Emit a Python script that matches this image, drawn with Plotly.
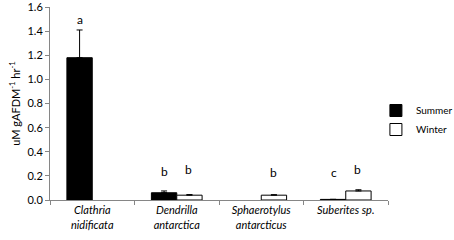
import plotly.graph_objects as go

categories = ["Clathria nidificata", "Dendrilla antarctica", "Sphaerotylus antarcticus", "Suberites sp."]
tick_labels = ["<i>Clathria<br>nidificata</i>", "<i>Dendrilla<br>antarctica</i>",
               "<i>Sphaerotylus<br>antarcticus</i>", "<i>Suberites sp.</i><br> "]
y_ticks = [0.0, 0.2, 0.4, 0.6, 0.8, 1.0, 1.2, 1.4, 1.6]
summer = [1.18, 0.06, None, 0.005]
summer_err = [0.23, 0.015, 0, 0.0]
winter = [None, 0.04, 0.04, 0.075]
winter_err = [0, 0.005, 0.004, 0.01]
summer_letters = ["a", "b", "", "c"]
winter_letters = ["", "b", "b", "b"]
letter_y_summer = [1.5, 0.24, None, 0.23]
letter_y_winter = [None, 0.25, 0.23, 0.25]

font = "Lato, Open Sans, sans-serif"

fig = go.Figure()
fig.add_trace(go.Bar(
    name="Summer", x=categories, y=summer,
    marker=dict(color="black", line=dict(color="black", width=1)),
    error_y=dict(type="data", array=summer_err, symmetric=False, arrayminus=[0]*4,
                 color="black", thickness=1, width=3),
))
fig.add_trace(go.Bar(
    name="Winter", x=categories, y=winter,
    marker=dict(color="white", line=dict(color="black", width=1)),
    error_y=dict(type="data", array=winter_err, symmetric=False, arrayminus=[0]*4,
                 color="black", thickness=1, width=3),
))

for c, l, yv in zip(categories, summer_letters, letter_y_summer):
    if l:
        fig.add_annotation(x=c, y=yv, text=l, showarrow=False, xshift=-12,
                           font=dict(size=12, color="black", family=font))
for c, l, yv in zip(categories, winter_letters, letter_y_winter):
    if l:
        fig.add_annotation(x=c, y=yv, text=l, showarrow=False, xshift=12,
                           font=dict(size=12, color="black", family=font))

fig.update_layout(
    width=454, height=240,
    margin=dict(l=50, r=66, t=7, b=40, autoexpand=False),
    paper_bgcolor="white", plot_bgcolor="white",
    barmode="group", bargap=0.4, bargroupgap=0,
    font=dict(family=font, size=11, color="black"),
    showlegend=True,
    legend=dict(xref="container", yref="container", x=0.828, y=0.60,
                xanchor="left", yanchor="top",
                font=dict(size=10), itemwidth=30, tracegroupgap=2,
                bgcolor="rgba(0,0,0,0)"),
)
fig.update_xaxes(
    tickmode="array", tickvals=categories, ticktext=tick_labels,
    showline=True, linecolor="#868686", linewidth=1,
    ticks="outside", tickson="boundaries", ticklen=4, tickcolor="#868686",
    showgrid=False, tickfont=dict(size=11), automargin=False,
)
fig.update_yaxes(
    range=[0, 1.6005], tickmode="array", tickvals=y_ticks,
    ticktext=[f"{v:.1f}" for v in y_ticks], ticklabeloverflow="allow",
    showline=True, linecolor="#868686", linewidth=1,
    ticks="outside", ticklen=4, tickcolor="#868686",
    showgrid=False, zeroline=False, tickfont=dict(size=11), automargin=False,
    title=dict(text="uM gAFDM<sup>-1</sup> hr<sup>-1</sup>", font=dict(size=11), standoff=4),
)

fig.write_html("out.html", config={"displayModeBar": False},
               post_script="document.body.style.margin='0';")
